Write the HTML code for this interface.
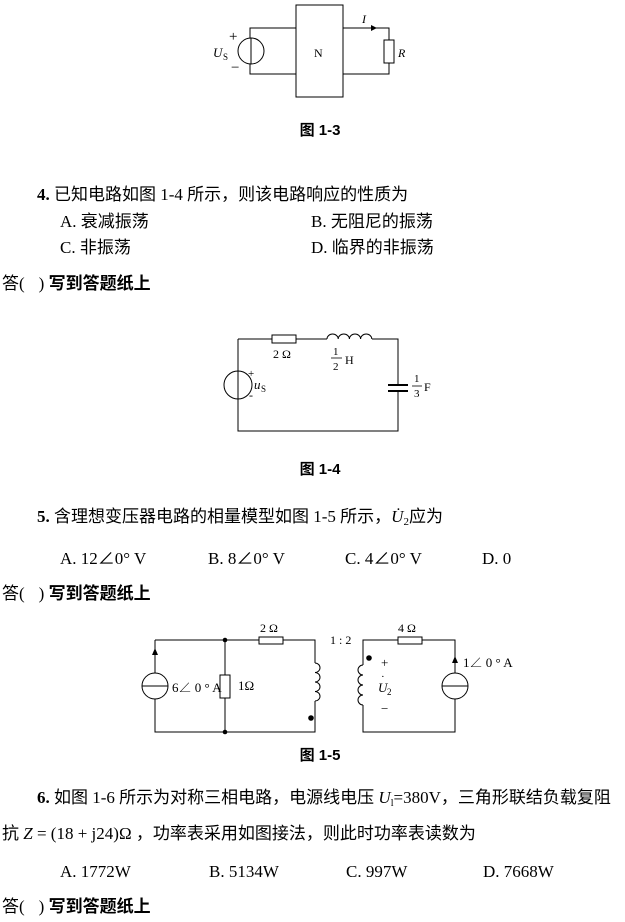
<!DOCTYPE html>
<html><head><meta charset="utf-8"><style>
html,body{margin:0;padding:0;background:#fff;}
svg{display:block;}
text{font-family:"Liberation Serif","Noto Serif CJK SC","Noto Sans CJK SC",serif;fill:#000;}
.cj{font-family:"Liberation Serif","Noto Sans CJK SC",sans-serif;font-size:17px;}
.cap{font-family:"Liberation Sans","Noto Sans CJK SC",sans-serif;font-size:15px;font-weight:bold;}
</style></head><body>
<svg width="625" height="922" viewBox="0 0 625 922" xmlns="http://www.w3.org/2000/svg">
<g stroke="#000" stroke-width="1" fill="none">
<rect x="296" y="5" width="47" height="92"/>
<path d="M296 28 H250 V74 H296"/>
<circle cx="251" cy="51" r="13" fill="#fff"/>
<line x1="251" y1="38" x2="251" y2="64"/>
<path d="M343 28 H389 V40 M389 63 V74 H343"/>
<rect x="384" y="40" width="10" height="23" fill="#fff"/>
<path d="M238 339 H272 M296 339 H327 M372 339 H398 V385 M398 391 V431 H238 V339"/>
<rect x="272" y="335" width="24" height="8" fill="#fff"/>
<path d="M327 339 a5.6 5 0 0 1 11.2 0 a5.6 5 0 0 1 11.2 0 a5.6 5 0 0 1 11.2 0 a5.6 5 0 0 1 11.2 0"/>
<circle cx="238" cy="385" r="14" fill="#fff"/>
<line x1="238" y1="371" x2="238" y2="399"/>
<line x1="388" y1="385" x2="408" y2="385" stroke-width="2"/>
<line x1="388" y1="391" x2="408" y2="391" stroke-width="2"/>
<path d="M155 640 H259 M283 640 H315 V663 M315 701 V732 H155 V640 M225 640 V675 M225 698 V732"/>
<rect x="259" y="637" width="24" height="7" fill="#fff"/>
<rect x="220" y="675" width="10" height="23" fill="#fff"/>
<path d="M315 663 a5 4.75 0 0 1 0 9.5 a5 4.75 0 0 1 0 9.5 a5 4.75 0 0 1 0 9.5 a5 4.75 0 0 1 0 9.5"/>
<circle cx="155" cy="686" r="13" fill="#fff"/>
<line x1="142" y1="686" x2="168" y2="686"/>
<path d="M363 665 V640 H398 M422 640 H455 V673 M455 699 V732 H363 V705"/>
<rect x="398" y="637" width="24" height="7" fill="#fff"/>
<path d="M363 665 a5 5 0 0 0 0 10 a5 5 0 0 0 0 10 a5 5 0 0 0 0 10 a5 5 0 0 0 0 10"/>
<circle cx="455" cy="686" r="13" fill="#fff"/>
<line x1="442" y1="686" x2="468" y2="686"/>
</g>
<g fill="#000">
<polygon points="371,25 377,28 371,31"/>
<polygon points="152,655 155,648 158,655"/>
<polygon points="452,663 455,656 458,663"/>
<circle cx="225" cy="640" r="2.3"/>
<circle cx="225" cy="732" r="2.3"/>
<circle cx="311" cy="718" r="2.8"/>
<circle cx="369" cy="658" r="2.8"/>
</g>
<text x="229" y="41" font-size="15">+</text>
<text x="213" y="57" font-size="13" font-style="italic">U</text><text x="223" y="60" font-size="9">S</text>
<text x="231" y="72" font-size="15">−</text>
<text x="314" y="57" font-size="12">N</text>
<text x="362" y="23" font-size="12" font-style="italic">I</text>
<text x="398" y="57" font-size="12" font-style="italic">R</text>
<text x="320" y="135" class="cap" text-anchor="middle">图 1-3</text>
<text x="37" y="200" class="cj"><tspan font-weight="bold">4.</tspan> 已知电路如图 1-4 所示，则该电路响应的性质为</text>
<text x="60" y="227" class="cj">A. 衰减振荡</text>
<text x="311" y="227" class="cj">B. 无阻尼的振荡</text>
<text x="60" y="253" class="cj">C. 非振荡</text>
<text x="311" y="253" class="cj">D. 临界的非振荡</text>
<text x="2" y="289" class="cj">答(<tspan dx="14">)</tspan> <tspan font-weight="bold">写到答题纸上</tspan></text>
<text x="273" y="358" font-size="12">2 Ω</text>
<text x="333" y="355" font-size="11">1</text>
<line x1="331" y1="358" x2="342" y2="358" stroke="#000" stroke-width="0.8"/>
<text x="333" y="370" font-size="11">2</text>
<text x="345" y="364" font-size="12">H</text>
<text x="248" y="377" font-size="11">+</text>
<text x="254" y="389" font-size="13" font-style="italic">u</text><text x="261" y="392" font-size="9">S</text>
<text x="249" y="399" font-size="12">-</text>
<text x="414" y="382" font-size="11">1</text>
<line x1="412" y1="386" x2="422" y2="386" stroke="#000" stroke-width="0.8"/>
<text x="414" y="397" font-size="11">3</text>
<text x="424" y="391" font-size="12">F</text>
<text x="320" y="474" class="cap" text-anchor="middle">图 1-4</text>
<text x="37" y="522" class="cj"><tspan font-weight="bold">5.</tspan> 含理想变压器电路的相量模型如图 1-5 所示，<tspan font-style="italic">U̇</tspan><tspan font-size="11" dy="3">2</tspan><tspan dy="-3">应为</tspan></text>
<text x="60" y="564" class="cj">A. 12∠0° V</text>
<text x="208" y="564" class="cj">B. 8∠0° V</text>
<text x="345" y="564" class="cj">C. 4∠0° V</text>
<text x="482" y="564" class="cj">D. 0</text>
<text x="2" y="599" class="cj">答(<tspan dx="14">)</tspan> <tspan font-weight="bold">写到答题纸上</tspan></text>
<text x="260" y="632" font-size="12">2 Ω</text>
<text x="330" y="644" font-size="12">1 : 2</text>
<text x="398" y="632" font-size="12">4 Ω</text>
<text x="172" y="692" font-size="13">6∠ 0 ° A</text>
<text x="238" y="690" font-size="13">1Ω</text>
<text x="381" y="667" font-size="13">+</text>
<text x="378" y="692" font-size="13" font-style="italic">U</text><text x="387" y="695" font-size="9">2</text>
<text x="381" y="680" font-size="11">·</text>
<text x="381" y="713" font-size="13">−</text>
<text x="463" y="667" font-size="13">1∠ 0 ° A</text>
<text x="320" y="760" class="cap" text-anchor="middle">图 1-5</text>
<text x="37" y="803" class="cj"><tspan font-weight="bold">6.</tspan> 如图 1-6 所示为对称三相电路，电源线电压 <tspan font-style="italic">U</tspan><tspan font-size="10" dy="3">l</tspan><tspan dy="-3">=380V，三角形联结负载复阻</tspan></text>
<text x="2" y="839" class="cj">抗 <tspan font-style="italic">Z</tspan> = (18 + j24)Ω ，功率表采用如图接法，则此时功率表读数为</text>
<text x="60" y="877" class="cj">A. 1772W</text>
<text x="209" y="877" class="cj">B. 5134W</text>
<text x="346" y="877" class="cj">C. 997W</text>
<text x="483" y="877" class="cj">D. 7668W</text>
<text x="2" y="912" class="cj">答(<tspan dx="14">)</tspan> <tspan font-weight="bold">写到答题纸上</tspan></text>
</svg>
</body></html>
